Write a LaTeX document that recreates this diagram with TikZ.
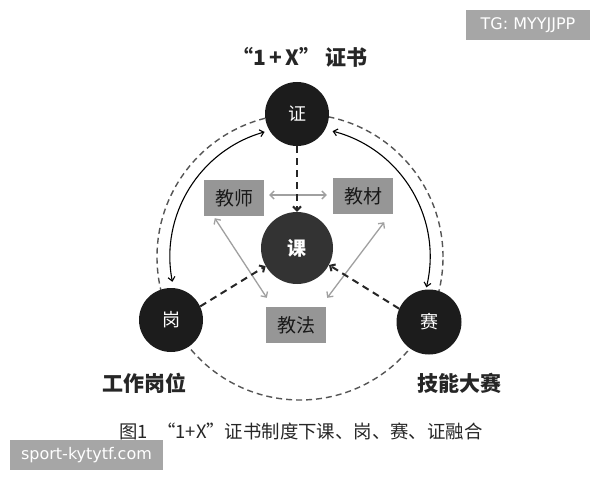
\documentclass[tikz,border=0pt]{standalone}
\usepackage{fontspec}
\newfontfamily\cjk{Noto Sans CJK SC}
\newfontfamily\wmfont{DejaVu Sans}
\usetikzlibrary{arrows.meta}
\definecolor{hubblack}{HTML}{1C1C1C}
\definecolor{hubgray}{HTML}{333333}
\definecolor{boxgray}{HTML}{969696}
\definecolor{wmgray}{HTML}{A6A6A6}
\definecolor{linkgray}{HTML}{A0A0A0}
\definecolor{dashgray}{HTML}{555555}
\tikzset{
  hub/.style={circle, fill=hubblack, minimum size=64pt, inner sep=0pt, text=white,
    font=\cjk\fontsize{18}{18}\selectfont},
  grbox/.style={rectangle, fill=boxgray, minimum width=60pt, minimum height=36pt,
    inner sep=0pt, text=black!90, font=\cjk\fontsize{19}{19}\selectfont},
  biglabel/.style={text=black!85, font=\cjk\bfseries\fontsize{21}{21}\selectfont},
  outerdash/.style={draw=dashgray, dash pattern=on 6pt off 4pt, line width=1.4pt},
  linkarc/.style={draw=black, line width=1.1pt,
    {Straight Barb[length=4pt,width=7pt]}-{Straight Barb[length=4pt,width=7pt]}},
  grayarrow/.style={draw=linkgray, line width=1.3pt,
    {Straight Barb[length=4pt,width=8pt]}-{Straight Barb[length=4pt,width=8pt]}},
  flowarrow/.style={draw=black!85, line width=2pt, dash pattern=on 7pt off 5pt,
    -{Straight Barb[length=4pt,width=8pt]}},
  wmbox/.style={rectangle, fill=wmgray, text=white, inner sep=0pt,
    font=\wmfont\fontsize{16}{16}\selectfont}
}
\begin{document}
\begin{tikzpicture}[x=1pt,y=1pt]
\useasboundingbox (0,0) rectangle (600,480);
\fill[white] (0,0) rectangle (600,480);

% centre of the ring
\coordinate (C) at (300,223);

% outer dashed ring
\draw[outerdash] (C) circle[radius=143];

% solid double arcs
\draw[linkarc] ([shift={(105.8:130)}]C) arc[start angle=105.8, end angle=191, radius=130];
\draw[linkarc] ([shift={(75.5:130)}]C) arc[start angle=75.5, end angle=-13.5, radius=130];

% hubs
\node[hub] (zheng) at (297,366) {证};
\node[hub, fill=hubgray, minimum size=72pt, font=\cjk\bfseries\fontsize{19}{19}\selectfont] (ke) at (297,232) {课};
\node[hub] (gang) at (171,160) {岗};
\node[hub, minimum size=65pt] (sai) at (429,158) {赛};

% boxes
\node[grbox] (js) at (234,282) {教师};
\node[grbox] (jc) at (363,284) {教材};
\node[grbox] (jf) at (296,155) {教法};

% grey double arrows
\draw[grayarrow] ([xshift=5pt,yshift=3pt]js.east) -- ([xshift=-6pt,yshift=1pt]jc.west);
\draw[grayarrow] ([xshift=11pt,yshift=-2pt]js.south west) -- ([xshift=1pt,yshift=9pt]jf.north west);
\draw[grayarrow] ([xshift=-9pt,yshift=-8pt]jc.south east) -- ([xshift=1pt,yshift=9pt]jf.north east);

% dashed black arrows into 课
\draw[flowarrow] (zheng.south) -- (ke.north);
\draw[flowarrow] (gang.25) -- (ke.210);
\draw[flowarrow] (sai.156) -- (ke.332);

% labels
\node[biglabel] (title) at (300,423) {“1\,+\,X” 证书};
\node[biglabel] (lgang) at (144,97) {工作岗位};
\node[biglabel] (lsai) at (459,97) {技能大赛};
\node[text=black!85, font=\cjk\fontsize{18.4}{18.4}\selectfont] (cap) at (301,49)
  {图1\hspace{0.5em}“1+X”证书制度下课、岗、赛、证融合};

% watermarks
\node[wmbox, minimum width=124pt, minimum height=30pt] (wm1) at (528,455) {TG: MYYJJPP};
\node[wmbox, minimum width=153pt, minimum height=30pt] (wm2) at (86.5,25) {sport-kytytf.com};
\end{tikzpicture}
\end{document}
